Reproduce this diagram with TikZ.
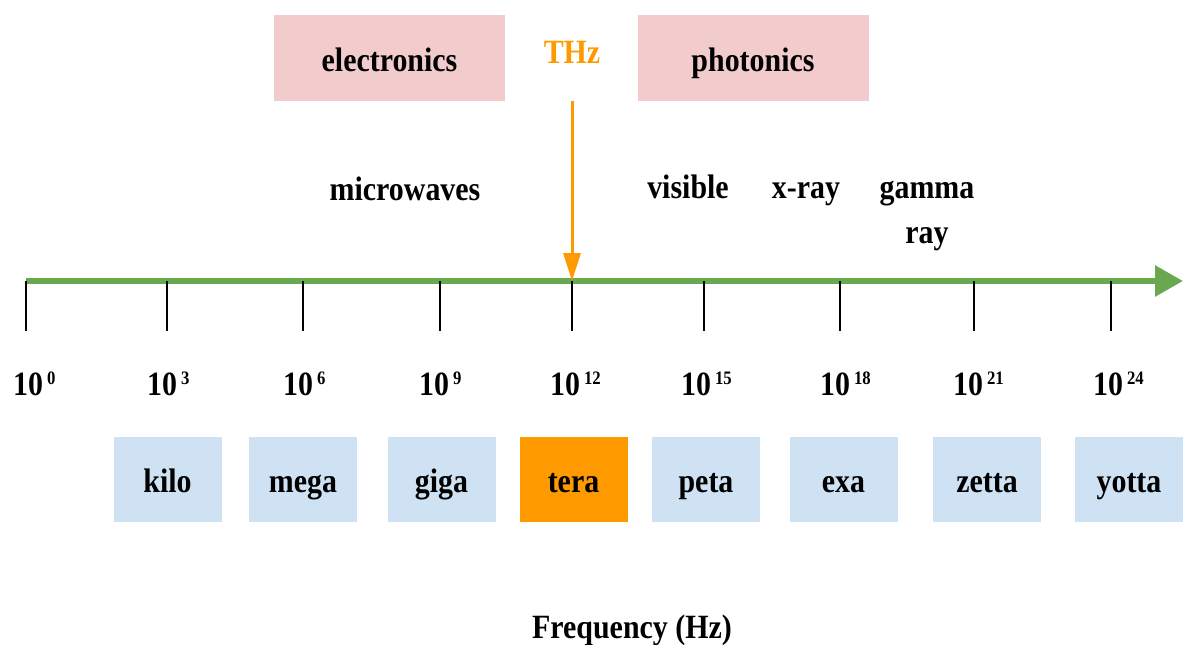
\documentclass[tikz,border=0pt]{standalone}
\usepackage{fontspec}
\setmainfont{Liberation Serif}[FakeStretch=0.88]
\usetikzlibrary{arrows.meta}
\definecolor{axisgreen}{HTML}{6AA84F}
\definecolor{pinkbox}{HTML}{F2CCCC}
\definecolor{bluebox}{HTML}{CFE2F3}
\definecolor{thzorange}{HTML}{FF9900}
\newcommand{\expo}[1]{10\hspace{4pt}\raisebox{11pt}{\fontsize{19}{20}\selectfont #1}}
\begin{document}
\begin{tikzpicture}[x=1pt,y=-1pt,
  lbl/.style={font=\fontsize{34}{40}\selectfont\bfseries, inner sep=0pt},
  bandbox/.style={fill=pinkbox, minimum width=231pt, minimum height=86pt, inner sep=0pt,
     text height=28pt, text depth=2pt, font=\fontsize{34}{40}\selectfont\bfseries},
  unitbox/.style={fill=bluebox, minimum width=108pt, minimum height=85pt, inner sep=0pt,
     text height=28pt, text depth=2pt, font=\fontsize{34}{40}\selectfont\bfseries},
  tickline/.style={black, line width=1.3pt},
  explbl/.style={lbl, anchor=base west}
]
\useasboundingbox (0,0) rectangle (1183,645);

% top bands
\node[bandbox] (elec) at (389.5,58) {electronics};
\node[bandbox] (phot) at (753,58) {photonics};
\node[lbl, anchor=base, text=thzorange] (thz) at (572,63) {THz};

% region labels
\node[lbl, anchor=base] (micro) at (405,200) {microwaves};
\node[lbl, anchor=base] (vis) at (688,198) {visible};
\node[lbl, anchor=base] (xray) at (806,198) {x-ray};
\node[lbl, anchor=base] (gamma) at (927,198) {gamma};
\node[lbl, anchor=base] (gray) at (927,243) {ray};

% axis
\coordinate (axs) at (26,281);
\coordinate (axe) at (1183,281);
\draw[axisgreen, line width=6pt, -{Triangle[length=28pt,width=30pt]}] (axs) -- (axe);

% ticks
\foreach \n/\x in {t0/26, t3/167, t6/303, t9/440, t12/572, t15/704, t18/840, t21/974, t24/1111}{
  \coordinate (\n) at (\x,281);
  \coordinate (\n b) at (\x,331);
  \draw[tickline] (\n) -- (\n b);
}

% THz arrow
\coordinate (thzs) at (572,101);
\draw[thzorange, line width=3pt, -{Triangle[length=28pt,width=17pt]}] (thzs) -- (t12);

% exponent labels
\node[explbl] (e0) at (13,395) {\expo{0}};
\node[explbl] (e3) at (147,395) {\expo{3}};
\node[explbl] (e6) at (283,395) {\expo{6}};
\node[explbl] (e9) at (419,395) {\expo{9}};
\node[explbl] (e12) at (550,395) {\expo{12}};
\node[explbl] (e15) at (681,395) {\expo{15}};
\node[explbl] (e18) at (820,395) {\expo{18}};
\node[explbl] (e21) at (953,395) {\expo{21}};
\node[explbl] (e24) at (1093,395) {\expo{24}};

% unit boxes
\node[unitbox] (kilo) at (167.5,479) {kilo};
\node[unitbox] (mega) at (303,479) {mega};
\node[unitbox] (giga) at (441.5,479) {giga};
\node[unitbox, fill=thzorange] (tera) at (573.5,479) {tera};
\node[unitbox] (peta) at (706,479) {peta};
\node[unitbox] (exa) at (843.5,479) {exa};
\node[unitbox] (zetta) at (987,479) {zetta};
\node[unitbox] (yotta) at (1129,479) {yotta};

% axis title
\node[lbl, anchor=base] (freq) at (632,638) {Frequency (Hz)};
\end{tikzpicture}
\end{document}
